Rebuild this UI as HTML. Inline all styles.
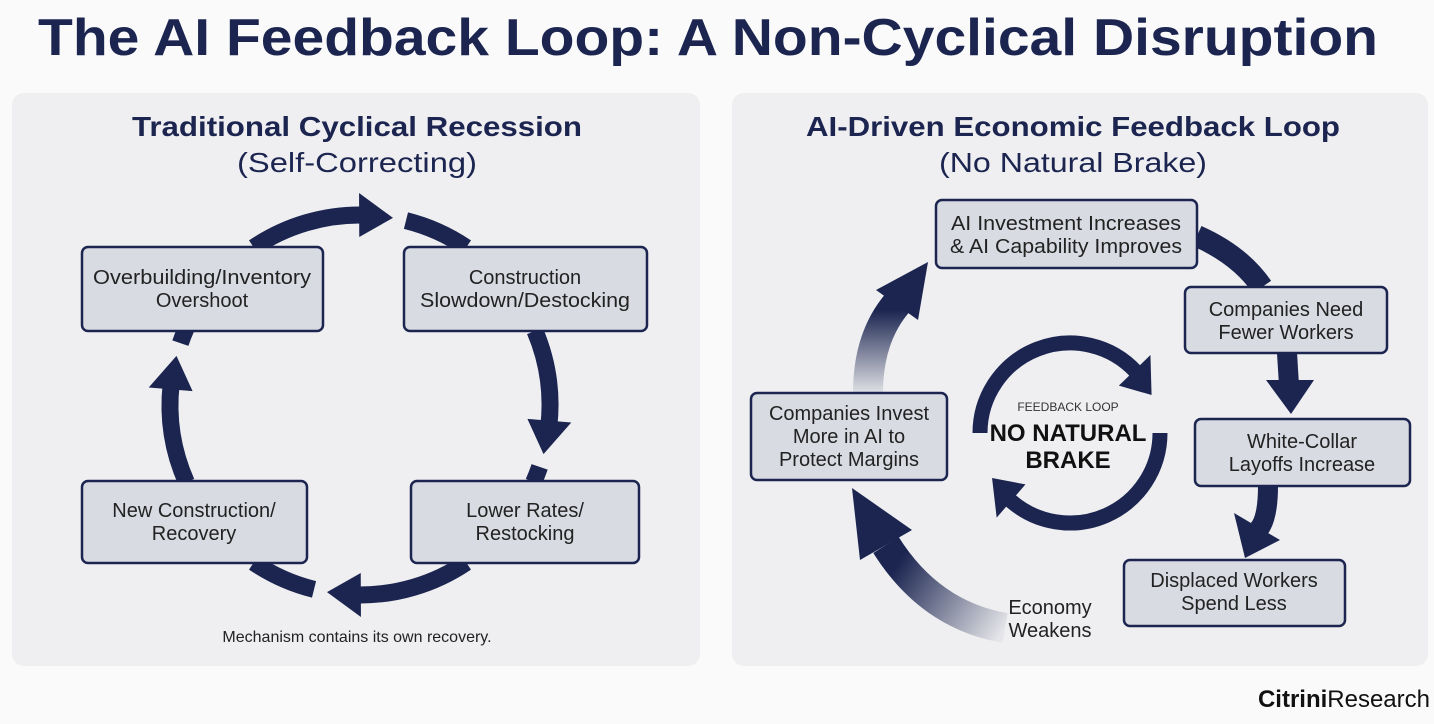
<!DOCTYPE html>
<html><head><meta charset="utf-8"><style>
html,body{margin:0;padding:0;background:#fafafa;}
svg{display:block;}
text{font-family:"Liberation Sans",sans-serif;}
</style></head><body>
<svg id="s" width="1434" height="724" viewBox="0 0 1434 724" xmlns="http://www.w3.org/2000/svg">
<defs>
<linearGradient id="g1" gradientUnits="userSpaceOnUse" x1="1005" y1="628" x2="900" y2="560"><stop offset="0" stop-color="#1b2550" stop-opacity="0.05"/><stop offset="1" stop-color="#1b2550"/></linearGradient>
<linearGradient id="g2" gradientUnits="userSpaceOnUse" x1="0" y1="392" x2="0" y2="310"><stop offset="0" stop-color="#1b2550" stop-opacity="0.08"/><stop offset="1" stop-color="#1b2550"/></linearGradient>
</defs>
<rect width="1434" height="724" fill="#fafafa"/>
<text x="708" y="55" text-anchor="middle" font-size="52" font-weight="bold" fill="#1b2550" textLength="1340" lengthAdjust="spacingAndGlyphs">The AI Feedback Loop: A Non-Cyclical Disruption</text>
<rect x="12" y="93" width="688" height="573" rx="12" fill="#efeff1"/>
<rect x="732" y="93" width="696" height="573" rx="12" fill="#efeff1"/>
<text x="357" y="136" text-anchor="middle" font-size="28" font-weight="bold" fill="#1b2550" textLength="450" lengthAdjust="spacingAndGlyphs">Traditional Cyclical Recession</text>
<text x="357" y="172" text-anchor="middle" font-size="28" fill="#1b2550" textLength="240" lengthAdjust="spacingAndGlyphs">(Self-Correcting)</text>
<text x="1073" y="136" text-anchor="middle" font-size="28" font-weight="bold" fill="#1b2550" textLength="534" lengthAdjust="spacingAndGlyphs">AI-Driven Economic Feedback Loop</text>
<text x="1073" y="172" text-anchor="middle" font-size="28" fill="#1b2550" textLength="268" lengthAdjust="spacingAndGlyphs">(No Natural Brake)</text>
<g id="arrows"></g>
<g fill="#d9dbe3" stroke="#1b2550" stroke-width="2.5">
<rect x="82" y="247" width="241" height="84" rx="6"/>
<rect x="404" y="247" width="243" height="84" rx="6"/>
<rect x="82" y="481" width="225" height="82" rx="6"/>
<rect x="411" y="481" width="228" height="82" rx="6"/>
<rect x="936" y="200" width="261" height="68" rx="6"/>
<rect x="1185" y="287" width="202" height="66" rx="6"/>
<rect x="1195" y="419" width="215" height="67" rx="6"/>
<rect x="1124" y="560" width="221" height="66" rx="6"/>
<rect x="751" y="393" width="196" height="87" rx="6"/>
</g>
<g font-size="20" fill="#222" text-anchor="middle">
<text x="202" y="284" textLength="218" lengthAdjust="spacingAndGlyphs">Overbuilding/Inventory</text><text x="202" y="307">Overshoot</text>
<text x="525" y="284">Construction</text><text x="525" y="307" textLength="210" lengthAdjust="spacingAndGlyphs">Slowdown/Destocking</text>
<text x="194" y="517">New Construction/</text><text x="194" y="540">Recovery</text>
<text x="525" y="517">Lower Rates/</text><text x="525" y="540">Restocking</text>
<text x="1066" y="230" textLength="230" lengthAdjust="spacingAndGlyphs">AI Investment Increases</text><text x="1066" y="253" textLength="232" lengthAdjust="spacingAndGlyphs">&amp; AI Capability Improves</text>
<text x="1286" y="316">Companies Need</text><text x="1286" y="339">Fewer Workers</text>
<text x="1302" y="448">White-Collar</text><text x="1302" y="471">Layoffs Increase</text>
<text x="1234" y="587">Displaced Workers</text><text x="1234" y="610">Spend Less</text>
<text x="849" y="420">Companies Invest</text><text x="849" y="443">More in AI to</text><text x="849" y="466">Protect Margins</text>
<text x="1050" y="614">Economy</text><text x="1050" y="637">Weakens</text>
</g>
<text x="1068" y="411" text-anchor="middle" font-size="12" fill="#333">FEEDBACK LOOP</text>
<text x="1068" y="441" text-anchor="middle" font-size="24" font-weight="bold" fill="#111">NO NATURAL</text>
<text x="1068" y="468" text-anchor="middle" font-size="24" font-weight="bold" fill="#111">BRAKE</text>
<text x="357" y="642" text-anchor="middle" font-size="16" fill="#222">Mechanism contains its own recovery.</text>
<text x="1430" y="707" text-anchor="end" font-size="24" fill="#111"><tspan font-weight="bold">Citrini</tspan>Research</text>
</svg>
<script>
var g=document.getElementById('arrows'),NS='http://www.w3.org/2000/svg';
function P(cx,cy,r,a){a=a*Math.PI/180;return [cx+r*Math.cos(a),cy+r*Math.sin(a)];}
function el(t,at){var e=document.createElementNS(NS,t);for(var k in at)e.setAttribute(k,at[k]);g.appendChild(e);return e;}
function arc(cx,cy,r,a0,a1,w,col,head,hl,hw){
  var dir=a1>a0?1:-1,aEnd=a1;
  if(head){aEnd=a1-dir*(hl/r)*180/Math.PI;}
  var aDraw=head?aEnd+dir*1.5:aEnd;
  var s=P(cx,cy,r,a0),e=P(cx,cy,r,aDraw),large=Math.abs(aDraw-a0)>180?1:0;
  el('path',{d:'M'+s[0]+' '+s[1]+' A'+r+' '+r+' 0 '+large+' '+(dir>0?1:0)+' '+e[0]+' '+e[1],fill:'none',stroke:col,'stroke-width':w});
  if(head){var t=P(cx,cy,r,a1),b1=P(cx,cy,r-hw,aEnd),b2=P(cx,cy,r+hw,aEnd);
    var h=head===true?'#1b2550':head;
    el('polygon',{points:t.join(',')+' '+b1.join(',')+' '+b2.join(','),fill:h});}
}
var N='#1b2550';
// left cycle
var cx=360,cy=405,r=190;
arc(cx,cy,r,-124,-80,17,N,true,34,22); arc(cx,cy,r,-76,-56,17,N,false);
arc(cx,cy,r,-23,15,17,N,true,34,22); arc(cx,cy,r,19,24,17,N,false);
arc(cx,cy,r,56,100,17,N,true,34,22); arc(cx,cy,r,104,124,17,N,false);
arc(cx,cy,r,156,195,17,N,true,34,22); arc(cx,cy,r,199,204,17,N,false);
// right side
el('path',{d:'M1197 236 Q1240 255 1262 287',stroke:N,'stroke-width':22,fill:'none'});
el('path',{d:'M1287 353 L1289 385',stroke:N,'stroke-width':20,fill:'none'});
el('polygon',{points:'1266,380 1314,380 1291,414',fill:N});
el('path',{d:'M1268 486 Q1268 520 1258 530',stroke:N,'stroke-width':20,fill:'none'});
el('polygon',{points:'1234,513 1280,540 1245,558',fill:N});
// bottom-left big arrow
el('path',{d:'M1005 628 Q930 615 886 545',stroke:'url(#g1)','stroke-width':30,fill:'none'});
el('polygon',{points:'852,488 860,560 912,530',fill:N});
// left-up big arrow
el('path',{d:'M868 393 Q868 335 900 300',stroke:'url(#g2)','stroke-width':30,fill:'none'});
el('polygon',{points:'928,262 876,290 918,320',fill:N});
// inner loop
arc(1070,433,90,180,335,15,N,true,30,22);
arc(1070,433,90,0,150,15,N,true,30,22);
</script>
</body></html>
